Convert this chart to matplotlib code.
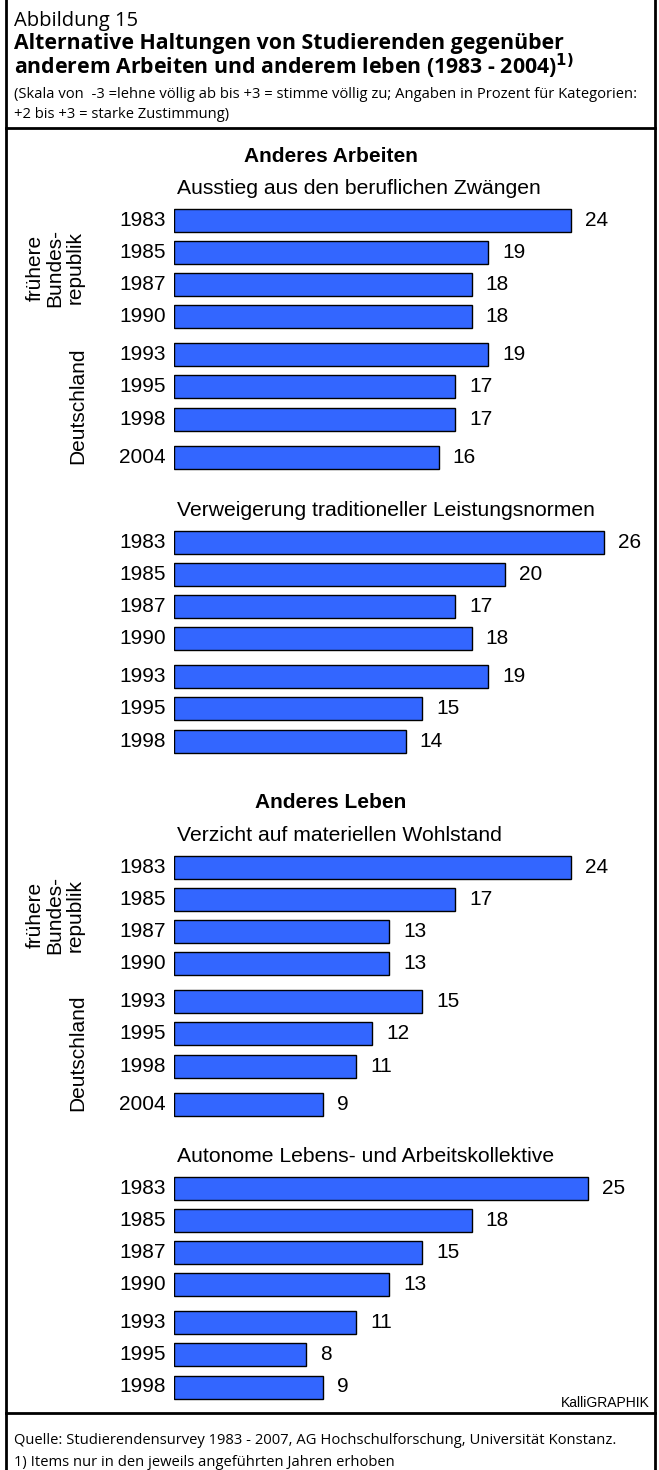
import matplotlib.pyplot as plt
from matplotlib.lines import Line2D

W, H = 659, 1470

# data
years = ['1983', '1985', '1987', '1990', '1993', '1995', '1998', '2004']
ausstieg = [24, 19, 18, 18, 19, 17, 17, 16]
verweigerung = [26, 20, 17, 18, 19, 15, 14]
verzicht = [24, 17, 13, 13, 15, 12, 11, 9]
autonome = [25, 18, 15, 13, 11, 8, 9]

titles = ["Ausstieg aus den beruflichen Zwängen",
          "Verweigerung traditioneller Leistungsnormen",
          "Verzicht auf materiellen Wohlstand",
          "Autonome Lebens- und Arbeitskollektive"]
series = [ausstieg, verweigerung, verzicht, autonome]

# layout (pixels from top)
first_row = [220, 542, 867, 1188]
row_off = [0, 32.3, 64.6, 96.9, 134.4, 166.7, 199, 237.5]
px_per_unit = 16.54
bar_x0 = 174

sans = 'Liberation Sans'
head = 'Open Sans'
bar_color = '#3366FF'


def fy(py):
    return 1 - py / H


def fx(px):
    return px / W


fig = plt.figure(figsize=(W / 100, H / 100), dpi=100)
ax = fig.add_axes([fx(bar_x0), 0, 1 - fx(bar_x0), 1])
ax.set_xlim(0, (W - bar_x0) / px_per_unit)
ax.set_ylim(H, 0)
ax.axis('off')

for title, vals, y0 in zip(titles, series, first_row):
    ys = [y0 + row_off[i] for i in range(len(vals))]
    ax.barh(ys, vals, height=23, color=bar_color, edgecolor='black', linewidth=1)
    for y, v, yr in zip(ys, vals, years):
        ax.text(v + 0.85, y, str(v), ha='left', va='center', fontsize=15, family=sans)
        ax.text(-0.48, y, yr, ha='right', va='center', fontsize=15, family=sans, clip_on=False)
    ax.text(0.2, y0 - 32, title, ha='left', va='center', fontsize=15.2, family=sans)

# section headings
for txt, py in [("Anderes Arbeiten", 157), ("Anderes Leben", 803)]:
    fig.text(fx(331), fy(py), txt, ha='center', va='center', fontsize=15,
             fontweight='bold', family=sans)

# group labels
for y0 in [first_row[0], first_row[2]]:
    fig.text(fx(55), fy(y0 + 48), "frühere\nBundes-\nrepublik", rotation=90,
             ha='center', va='center', multialignment='center', fontsize=15,
             family=sans, linespacing=1.05)
    fig.text(fx(78), fy(y0 + 186), "Deutschland", rotation=90, ha='center',
             va='center', fontsize=15, family=sans)

# header
fig.text(fx(14), fy(21), "Abbildung 15", ha='left', va='center', fontsize=14.5, family=head)
fig.text(fx(14), fy(43), "Alternative Haltungen von Studierenden gegenüber",
         ha='left', va='center', fontsize=15.3, fontweight='bold', family=head)
fig.text(fx(14), fy(66), r"anderem Arbeiten und anderem leben (1983 - 2004)$^{\mathbf{1)}}$",
         ha='left', va='center', fontsize=15.3, fontweight='bold', family=head)
fig.text(fx(14), fy(95), "(Skala von  -3 =lehne völlig ab bis +3 = stimme völlig zu; Angaben in Prozent für Kategorien:",
         ha='left', va='center', fontsize=10.6, family=head)
fig.text(fx(14), fy(115), "+2 bis +3 = starke Zustimmung)",
         ha='left', va='center', fontsize=10.6, family=head)

# footer
fig.text(fx(650), fy(1403), "KalliGRAPHIK", ha='right', va='center', fontsize=10, family=sans)
fig.text(fx(14), fy(1441), "Quelle: Studierendensurvey 1983 - 2007, AG Hochschulforschung, Universität Konstanz.",
         ha='left', va='center', fontsize=10.6, family=head)
fig.text(fx(14), fy(1462), "1) Items nur in den jeweils angeführten Jahren erhoben",
         ha='left', va='center', fontsize=10.6, family=head)

# frame
for xs, ys in [([6, 6], [0, H]), ([655, 655], [0, H]),
               ([6, 655], [128, 128]), ([6, 655], [1413, 1413])]:
    fig.add_artist(Line2D([fx(x) for x in xs], [fy(y) for y in ys],
                          transform=fig.transFigure, color='black', linewidth=2))

fig.savefig('out.png', dpi=100)
